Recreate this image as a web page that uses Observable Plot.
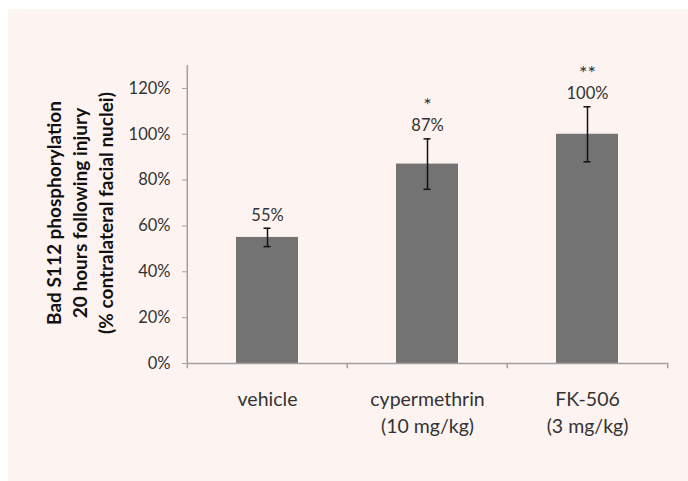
<!DOCTYPE html>
<html>
<head>
<meta charset="utf-8">
<script src="https://cdn.jsdelivr.net/npm/d3@7"></script>
<script src="https://cdn.jsdelivr.net/npm/@observablehq/plot@0.6"></script>
<style>
  html, body { margin: 0; padding: 0; background: #ffffff; }
  #wrap { position: relative; width: 688px; height: 481px; overflow: hidden; font-family: Lato, "Open Sans", sans-serif; }
  #bg { position: absolute; left: 8px; top: 9px; right: 0; bottom: 0; background: #fdf3f1; }
  #chart { position: absolute; left: 0; top: 0; }
  #ytitle { position: absolute; width: 340px; left: 80px; top: 213px; transform: translate(-50%, -50%) rotate(-90deg);
    text-align: center; font-weight: bold; font-size: 19px; line-height: 26px; color: #111; }
</style>
</head>
<body>
<div id="wrap">
  <div id="bg"></div>
  <div id="chart"></div>
  <div id="ytitle">Bad S112 phosphorylation<br>20 hours following injury<br>(% contralateral facial nuclei)</div>
</div>
<script>
const categories = ["vehicle", "cypermethrin", "FK-506"];
const categoryLabels = ["vehicle", "cypermethrin\n(10 mg/kg)", "FK-506\n(3 mg/kg)"];
const values = [55, 87, 100];
const errors = [4, 11, 12];
const valueLabels = ["55%", "87%", "100%"];
const stars = ["", "*", "**"];
const yTicks = [0, 20, 40, 60, 80, 100, 120];

const data = categories.map((c, i) => ({
  cat: c, label: categoryLabels[i], value: values[i],
  lo: values[i] - errors[i], hi: values[i] + errors[i],
  vlabel: valueLabels[i], star: stars[i]
}));

const axisColor = "#a0a0a0";
const textColor = "#333333";
const halfStep = 80.2;

const chart = Plot.plot({
  width: 688,
  height: 481,
  marginLeft: 187,
  marginRight: 20,
  marginTop: 65,
  marginBottom: 118,
  style: { background: "transparent", fontFamily: "Lato, 'Open Sans', sans-serif" },
  x: { domain: categories, paddingInner: 0.61, paddingOuter: 0.305, axis: null },
  y: { domain: [0, 130], axis: null },
  marks: [
    Plot.barY(data, { x: "cat", y: "value", fill: "#737373" }),
    Plot.ruleY([0], { stroke: axisColor, strokeWidth: 1.5 }),
    Plot.ruleX([categories[0]], { dx: -halfStep, y1: 0, y2: 130, stroke: axisColor, strokeWidth: 1.5 }),
    Plot.ruleX(categories, { dx: -halfStep, y1: 0, y2: -2.3, stroke: axisColor, strokeWidth: 1.5 }),
    Plot.ruleX([categories[categories.length - 1]], { dx: halfStep, y1: 0, y2: -2.3, stroke: axisColor, strokeWidth: 1.5 }),
    Plot.axisY({ ticks: yTicks, tickFormat: d => d + "%", tickSize: 5, tickPadding: 12, stroke: axisColor,
      fontSize: 16.5, fill: textColor, label: null, strokeWidth: 1 }),
    Plot.ruleX(data, { x: "cat", y1: "lo", y2: "hi", stroke: "#111", strokeWidth: 1.5 }),
    Plot.tickY(data, { x: "cat", y: "lo", stroke: "#111", strokeWidth: 1.5, insetLeft: 27.5, insetRight: 27.5 }),
    Plot.tickY(data, { x: "cat", y: "hi", stroke: "#111", strokeWidth: 1.5, insetLeft: 27.5, insetRight: 27.5 }),
    Plot.text(data, { x: "cat", y: "hi", text: "vlabel", dy: -13, fontSize: 16.5, fill: textColor }),
    Plot.text(data, { x: "cat", y: "hi", text: "star", dy: -33, fontSize: 20, letterSpacing: "2px", fill: textColor }),
    Plot.text(data, { x: "cat", y: 0, text: "label", lineAnchor: "top", dy: 24, lineHeight: 1.35, fontSize: 19.5, fill: textColor })
  ]
});
document.getElementById("chart").appendChild(chart);
</script>
</body>
</html>
